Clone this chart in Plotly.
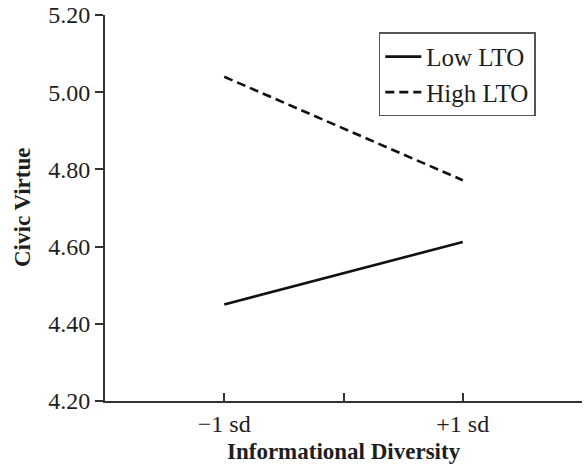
import plotly.graph_objects as go

# Data
tick_labels = ["", "\u22121 sd", "", "+1 sd", ""]
categories = ["\u22121 sd", "+1 sd"]
low_lto = [4.45, 4.612]
high_lto = [5.04, 4.772]
y_ticks = [4.20, 4.40, 4.60, 4.80, 5.00, 5.20]

tick_vals = list(range(len(tick_labels)))
x_pos = [tick_labels.index(c) for c in categories]

font_family = "Liberation Serif, Times New Roman, serif"
axis_color = "#333333"
text_color = "#1e1e1e"
fsize = 24

fig = go.Figure()
fig.add_trace(go.Scatter(
    x=x_pos, y=low_lto, mode="lines", name="Low LTO",
    line=dict(color="#111111", width=2.6)))
fig.add_trace(go.Scatter(
    x=x_pos, y=high_lto, mode="lines", name="High LTO",
    line=dict(color="#111111", width=2.6, dash="9px,5px")))

fig.update_layout(
    width=585, height=468,
    margin=dict(l=105, r=3, t=15, b=67),
    paper_bgcolor="white", plot_bgcolor="white",
    font=dict(family=font_family, size=fsize, color=text_color),
    showlegend=True,
    legend=dict(
        x=0.574, y=0.955, xanchor="left", yanchor="top",
        bgcolor="white", bordercolor="#555555", borderwidth=1.5,
        font=dict(family=font_family, size=fsize + 1, color=text_color),
        tracegroupgap=0, itemwidth=36,
    ),
    xaxis=dict(
        range=[0, len(tick_labels) - 1],
        tickmode="array", tickvals=tick_vals, ticktext=tick_labels,
        ticks="inside", ticklen=8, tickwidth=1.5, tickcolor=axis_color,
        showline=True, linecolor=axis_color, linewidth=1.8,
        showgrid=False, zeroline=False, automargin=False,
        tickfont=dict(family=font_family, size=fsize, color=text_color),
    ),
    yaxis=dict(
        range=[4.20, 5.20],
        tickmode="array", tickvals=y_ticks,
        ticktext=[f"{v:.2f}" for v in y_ticks],
        ticks="outside", ticklen=8, tickwidth=1.5, tickcolor=axis_color,
        showline=True, linecolor=axis_color, linewidth=1.8,
        showgrid=False, zeroline=False, automargin=False,
        tickfont=dict(family=font_family, size=fsize, color=text_color),
    ),
    annotations=[
        dict(text="<b>Informational Diversity</b>", xref="paper", yref="paper",
             x=0.5, y=-0.132, xanchor="center", yanchor="middle", showarrow=False,
             font=dict(family=font_family, size=fsize - 1, color=text_color)),
        dict(text="<b>Civic Virtue</b>", xref="paper", yref="paper",
             x=-0.174, y=0.5, xanchor="center", yanchor="middle", showarrow=False,
             textangle=-90,
             font=dict(family=font_family, size=fsize - 1, color=text_color)),
    ],
)

fig.write_html("out.html", config={"displayModeBar": False},
               post_script="document.body.style.margin='0';document.body.style.overflow='hidden';")
